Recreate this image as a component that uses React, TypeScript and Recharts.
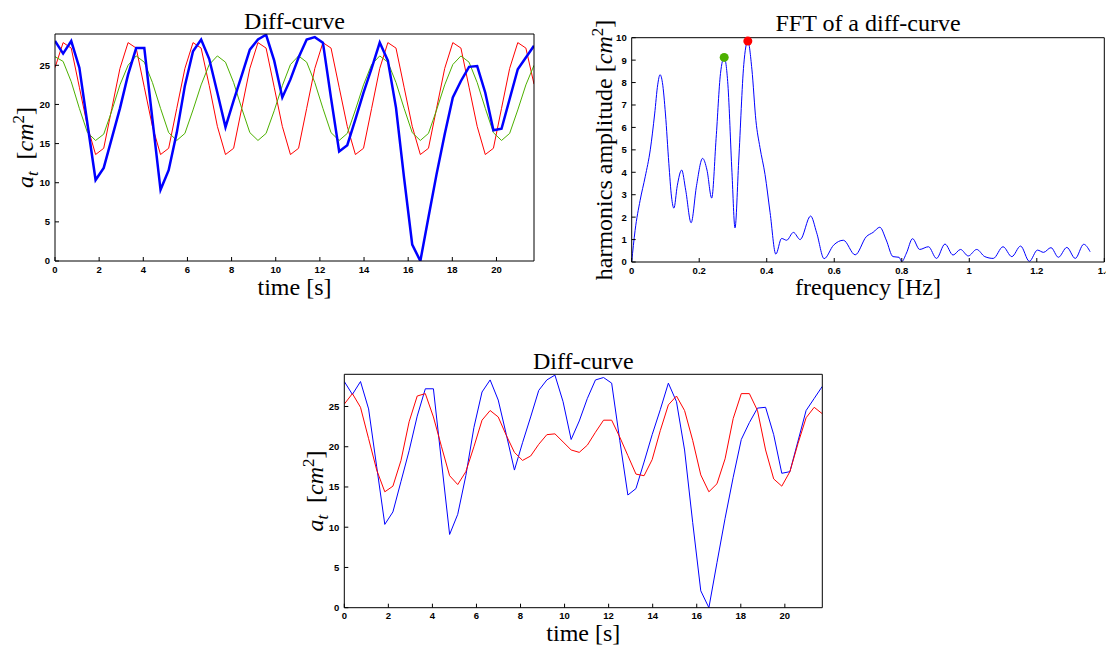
import React from 'react';
import { LineChart, Line, XAxis, YAxis, ReferenceDot } from 'recharts';

// sampling step of the diff-curve (s)
const DT = 0.3678;
const T_MAX = 21.7;

const TIME_TICKS = [0, 2, 4, 6, 8, 10, 12, 14, 16, 18, 20];
const AREA_TICKS = [0, 5, 10, 15, 20, 25];

// measured diff-curve (blue)
const diffCurve = [
  28.1, 26.5, 28.1, 24.7, 17.5, 10.35, 11.9, 15.7, 19.5, 23.8,
  27.2, 27.2, 18.1, 9.1, 11.6, 16.4, 22.4, 26.8, 28.3, 25.8,
  21.5, 17.1, 20.5, 23.7, 27.0, 28.3, 28.9, 25.6, 20.9, 23.2,
  26.0, 28.3, 28.6, 27.9, 20.8, 14.0, 14.8, 18.1, 21.5, 24.6,
  27.9, 25.6, 19.6, 10.6, 2.1, 0, 5.6, 11.1, 16.2, 20.9,
  23.0, 24.8, 24.9, 21.5, 16.7, 16.9, 20.7, 24.5, 26.0, 27.5,
];

// top chart: strongest harmonic (red) and second one (green)
const harmonicRed = [
  24.7, 27.9, 27.2, 22.2, 17.2, 13.6, 14.4, 19.5, 24.6, 27.9,
  27.2, 22.2, 17.2, 13.6, 14.4, 19.5, 24.6, 27.9, 27.2, 22.4,
  17.2, 13.6, 14.4, 19.5, 24.6, 27.9, 27.2, 22.2, 17.2, 13.6,
  14.4, 19.5, 24.6, 27.9, 27.2, 22.2, 17.2, 13.6, 14.4, 19.5,
  24.6, 27.9, 27.2, 22.2, 17.2, 13.6, 14.4, 19.5, 24.6, 27.9,
  27.2, 22.2, 17.2, 13.6, 14.4, 19.5, 24.6, 27.9, 27.2, 22.6,
];
const harmonicGreen = [
  26.1, 25.5, 22.9, 19.5, 16.4, 15.4, 16.2, 19.2, 22.5, 25.0,
  26.2, 25.4, 22.8, 19.5, 16.4, 15.4, 16.3, 19.3, 22.5, 25.1,
  26.2, 25.4, 22.8, 19.5, 16.4, 15.4, 16.3, 19.2, 22.4, 25.1,
  26.2, 25.4, 22.8, 19.5, 16.4, 15.4, 16.3, 19.3, 22.5, 25.1,
  26.2, 25.4, 22.8, 19.5, 16.4, 15.4, 16.3, 19.3, 22.5, 25.1,
  26.2, 25.4, 22.8, 19.5, 16.4, 15.4, 16.3, 19.3, 22.5, 25.0,
];

// bottom chart: sum of the two harmonics (red)
const harmonicSum = [
  25.3, 26.6, 24.9, 21.0, 17.1, 14.4, 15.1, 18.3, 23.1, 26.3,
  26.6, 23.7, 20.0, 16.4, 15.3, 16.9, 20.0, 23.3, 24.5, 23.7,
  21.4, 19.3, 18.3, 18.85, 20.3, 21.5, 21.6, 20.6, 19.6, 19.3,
  20.2, 21.8, 23.3, 23.3, 21.2, 18.9, 16.6, 16.4, 18.4, 22.0,
  25.2, 26.3, 24.5, 20.8, 16.5, 14.4, 15.4, 18.5, 23.5, 26.6,
  26.6, 24.5, 19.6, 16.0, 15.1, 16.9, 20.4, 23.6, 24.9, 24.1,
];

// FFT spectrum
const FREQ = [
  0, 0.01, 0.025, 0.04, 0.055, 0.068, 0.077, 0.084, 0.091, 0.1,
  0.11, 0.118, 0.125, 0.135, 0.148, 0.16, 0.176, 0.192, 0.21, 0.223,
  0.237, 0.25, 0.263, 0.274, 0.285, 0.297, 0.306, 0.317, 0.332, 0.344,
  0.356, 0.368, 0.38, 0.395, 0.41, 0.427, 0.444, 0.459, 0.479, 0.499,
  0.53, 0.548, 0.57, 0.598, 0.627, 0.662, 0.695, 0.715, 0.735, 0.754,
  0.774, 0.792, 0.8, 0.814, 0.832, 0.853, 0.879, 0.903, 0.928, 0.952,
  0.974, 0.997, 1.022, 1.046, 1.071, 1.1, 1.126, 1.152, 1.178, 1.202,
  1.22, 1.242, 1.264, 1.289, 1.314, 1.339, 1.358,
];
const AMPLITUDE = [
  0, 1.4, 2.75, 3.8, 5.0, 6.6, 7.9, 8.35, 8.0, 6.6,
  4.4, 2.9, 2.4, 3.4, 4.1, 3.2, 1.75, 3.4, 4.62, 4.1,
  2.85, 5.5, 8.4, 9.12, 7.9, 4.0, 1.52, 4.5, 8.8, 9.85,
  8.6, 6.3, 5.1, 3.9, 2.2, 0.35, 1.05, 0.97, 1.32, 1.0,
  2.05, 1.3, 0.15, 0.75, 0.97, 0.32, 1.13, 1.32, 1.55, 0.98,
  0.24, 0.21, 0.02, 0.4, 1.04, 0.56, 0.68, 0.16, 0.8, 0.31,
  0.56, 0.27, 0.56, 0.24, 0.16, 0.68, 0.24, 0.71, 0.03, 0.53,
  0.43, 0.64, 0.21, 0.65, 0.16, 0.79, 0.46,
];
const FREQ_TICKS = [0, 0.2, 0.4, 0.6, 0.8, 1, 1.2, 1.4];
const AMP_TICKS = [0, 1, 2, 3, 4, 5, 6, 7, 8, 9, 10];
const PEAK_SECOND = { f: 0.274, a: 9.12 };
const PEAK_FIRST = { f: 0.344, a: 9.85 };

const timeRows = diffCurve.map((v, i) => ({
  t: i * DT,
  diff: v,
  red: harmonicRed[i],
  green: harmonicGreen[i],
  sum: harmonicSum[i],
}));
const fftRows = FREQ.map((f, i) => ({ f, amp: AMPLITUDE[i] }));

const BLUE = '#0000ff';
const RED = '#ff0000';
const GREEN = '#4db000';
const SERIF = '"Liberation Serif", "Times New Roman", serif';
const tickFont = {
  fill: '#000',
  fontSize: 9.5,
  fontWeight: 700,
  fontFamily: '"Liberation Sans", Arial, sans-serif',
};
const axisLine = { stroke: '#000', strokeWidth: 1 };

// matlab style box: ticks pointing inwards on all four sides
// (each axis is 1px thick, so margins are the plot box minus 1)
function boxAxes(xKey: string, xDomain: number[], xTicks: number[], yDomain: number[], yTicks: number[]) {
  return [
    <XAxis key="xb" type="number" dataKey={xKey} domain={xDomain} ticks={xTicks} interval={0}
      height={1} tickSize={-4} tickMargin={9} axisLine={axisLine} tickLine={axisLine} tick={tickFont} allowDataOverflow />,
    <XAxis key="xt" xAxisId="top" orientation="top" type="number" dataKey={xKey} domain={xDomain} ticks={xTicks}
      interval={0} height={1} tickSize={-4} axisLine={axisLine} tickLine={axisLine} tick={false} allowDataOverflow />,
    <YAxis key="yl" type="number" domain={yDomain} ticks={yTicks} interval={0} width={1}
      tickSize={-4} tickMargin={9} axisLine={axisLine} tickLine={axisLine} tick={tickFont} allowDataOverflow />,
    <YAxis key="yr" yAxisId="right" orientation="right" type="number" domain={yDomain} ticks={yTicks} interval={0}
      width={1} tickSize={-4} axisLine={axisLine} tickLine={axisLine} tick={false} allowDataOverflow />,
  ];
}

function AreaLabel({ x, y }: { x: number; y: number }) {
  return (
    <text x={x} y={y} transform={`rotate(-90 ${x} ${y})`} textAnchor="middle" fontFamily={SERIF} fontSize={24}>
      <tspan fontStyle="italic">a</tspan>
      <tspan fontStyle="italic" fontSize={17} dy={5}>t</tspan>
      <tspan dy={-5}>{'\u2002['}</tspan>
      <tspan fontStyle="italic">cm</tspan>
      <tspan fontSize={17} dy={-9}>2</tspan>
      <tspan dy={9}>]</tspan>
    </text>
  );
}

export default function App() {
  return (
    <div style={{ position: 'absolute', left: 0, top: 0, width: 1106, height: 647, overflow: 'hidden', background: '#fff' }}>
      <div style={{ position: 'absolute', left: 0, top: 0 }}>
        <LineChart width={560} height={300} data={timeRows} margin={{ top: 33, right: 25, bottom: 38, left: 54 }}>
          {boxAxes('t', [0, T_MAX], TIME_TICKS, [0, 29], AREA_TICKS)}
          <Line dataKey="red" stroke={RED} strokeWidth={1} dot={false} type="linear" isAnimationActive={false} />
          <Line dataKey="green" stroke={GREEN} strokeWidth={1} dot={false} type="linear" isAnimationActive={false} />
          <Line dataKey="diff" stroke={BLUE} strokeWidth={2.5} dot={false} type="linear" isAnimationActive={false} />
        </LineChart>
      </div>

      <div style={{ position: 'absolute', left: 580, top: 0 }}>
        <LineChart width={526} height={300} data={fftRows} margin={{ top: 36.7, right: 0.7, bottom: 37, left: 50.7 }}>
          {boxAxes('f', [0, 1.4], FREQ_TICKS, [0, 10], AMP_TICKS)}
          <Line dataKey="amp" stroke={BLUE} strokeWidth={1} dot={false} type="monotone" isAnimationActive={false} />
          <ReferenceDot x={PEAK_SECOND.f} y={PEAK_SECOND.a} r={4.5} fill={GREEN} stroke="none" />
          <ReferenceDot x={PEAK_FIRST.f} y={PEAK_FIRST.a} r={4.5} fill={RED} stroke="none" />
        </LineChart>
      </div>

      <div style={{ position: 'absolute', left: 290, top: 340 }}>
        <LineChart width={560} height={307} data={timeRows} margin={{ top: 33.3, right: 26.7, bottom: 38.3, left: 53.3 }}>
          {boxAxes('t', [0, T_MAX], TIME_TICKS, [0, 29], AREA_TICKS)}
          <Line dataKey="diff" stroke={BLUE} strokeWidth={1} dot={false} type="linear" isAnimationActive={false} />
          <Line dataKey="sum" stroke={RED} strokeWidth={1} dot={false} type="linear" isAnimationActive={false} />
        </LineChart>
      </div>

      <svg width={1106} height={647} style={{ position: 'absolute', left: 0, top: 0, pointerEvents: 'none' }}>
        <g fontFamily={SERIF} fontSize={24} textAnchor="middle" fill="#000">
          <text x={294.5} y={29}>Diff-curve</text>
          <text x={294.5} y={295}>time [s]</text>
          <text x={868} y={31}>FFT of a diff-curve</text>
          <text x={868} y={295}>frequency [Hz]</text>
          <text x={583.3} y={369}>Diff-curve</text>
          <text x={583.3} y={641}>time [s]</text>
          <text x={612} y={150} transform="rotate(-90 612 150)">
            harmonics amplitude [<tspan fontStyle="italic">cm</tspan>
            <tspan fontSize={17} dy={-9}>2</tspan>
            <tspan dy={9}>]</tspan>
          </text>
        </g>
        <AreaLabel x={33} y={147.5} />
        <AreaLabel x={323} y={491} />
      </svg>
    </div>
  );
}
